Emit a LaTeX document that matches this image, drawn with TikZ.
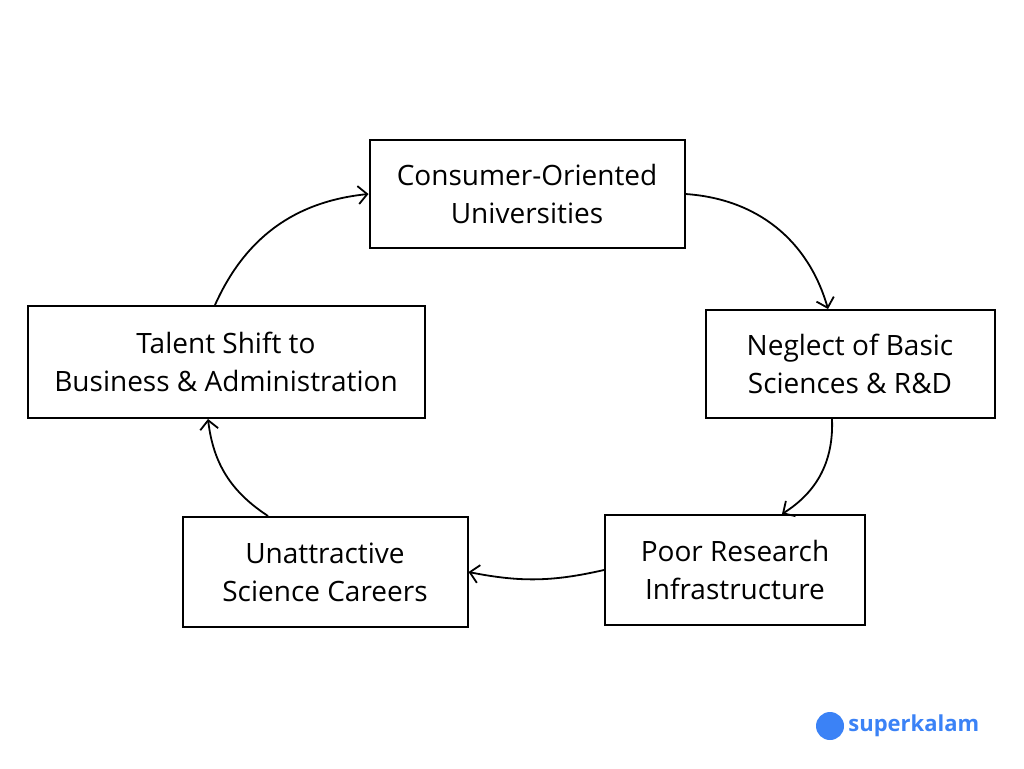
\documentclass[tikz,border=0pt]{standalone}
\usepackage{fontspec}
\setmainfont{Open Sans}
\usetikzlibrary{positioning,arrows.meta}
\definecolor{kalam}{HTML}{3B82F6}
\tikzset{
  cause/.style={draw,line width=2pt,align=center,font=\fontsize{28}{38}\selectfont,inner sep=0pt},
  flow/.style={-{Straight Barb[length=9pt,width=18pt,line width=1.8pt]},line width=1.8pt}
}
\begin{document}
\begin{tikzpicture}[x=1pt,y=-1pt]
  \useasboundingbox (0,0) rectangle (1024,768);

  \node[cause,minimum width=315pt,minimum height=108pt] (cons) at (527,194) {Consumer-Oriented\\Universities};
  \node[cause,minimum width=289pt,minimum height=108pt] (negl) at (850,364) {Neglect of Basic\\Sciences \& R\&D};
  \node[cause,minimum width=260pt,minimum height=110pt] (poor) at (735,570) {Poor Research\\Infrastructure};
  \node[cause,minimum width=285pt,minimum height=110pt] (unat) at (325,572) {Unattractive\\Science Careers};
  \node[cause,minimum width=397pt,minimum height=112pt] (tal) at (226,362) {Talent Shift to\\Business \& Administration};

  \draw[flow] (cons.east) to[bend left=35] ([xshift=-22pt]negl.north);
  \draw[flow] ([xshift=-18pt]negl.south) to[bend left=30] ([xshift=47pt]poor.north);
  \draw[flow] (poor.west) to[bend left=12] (unat.east);
  \draw[flow] ([xshift=-57pt]unat.north) to[bend left=25] ([xshift=-18pt]tal.south);
  \draw[flow] ([xshift=-11pt]tal.north) to[bend left=30] (cons.west);

  % logo
  \node[circle,fill=kalam,minimum size=28pt,inner sep=0pt] (logo) at (830,726) {};
  \node[right=4pt of logo,text=kalam,font=\fontsize{22}{26}\selectfont\bfseries,inner sep=0pt] (brand) {superkalam};
\end{tikzpicture}
\end{document}
